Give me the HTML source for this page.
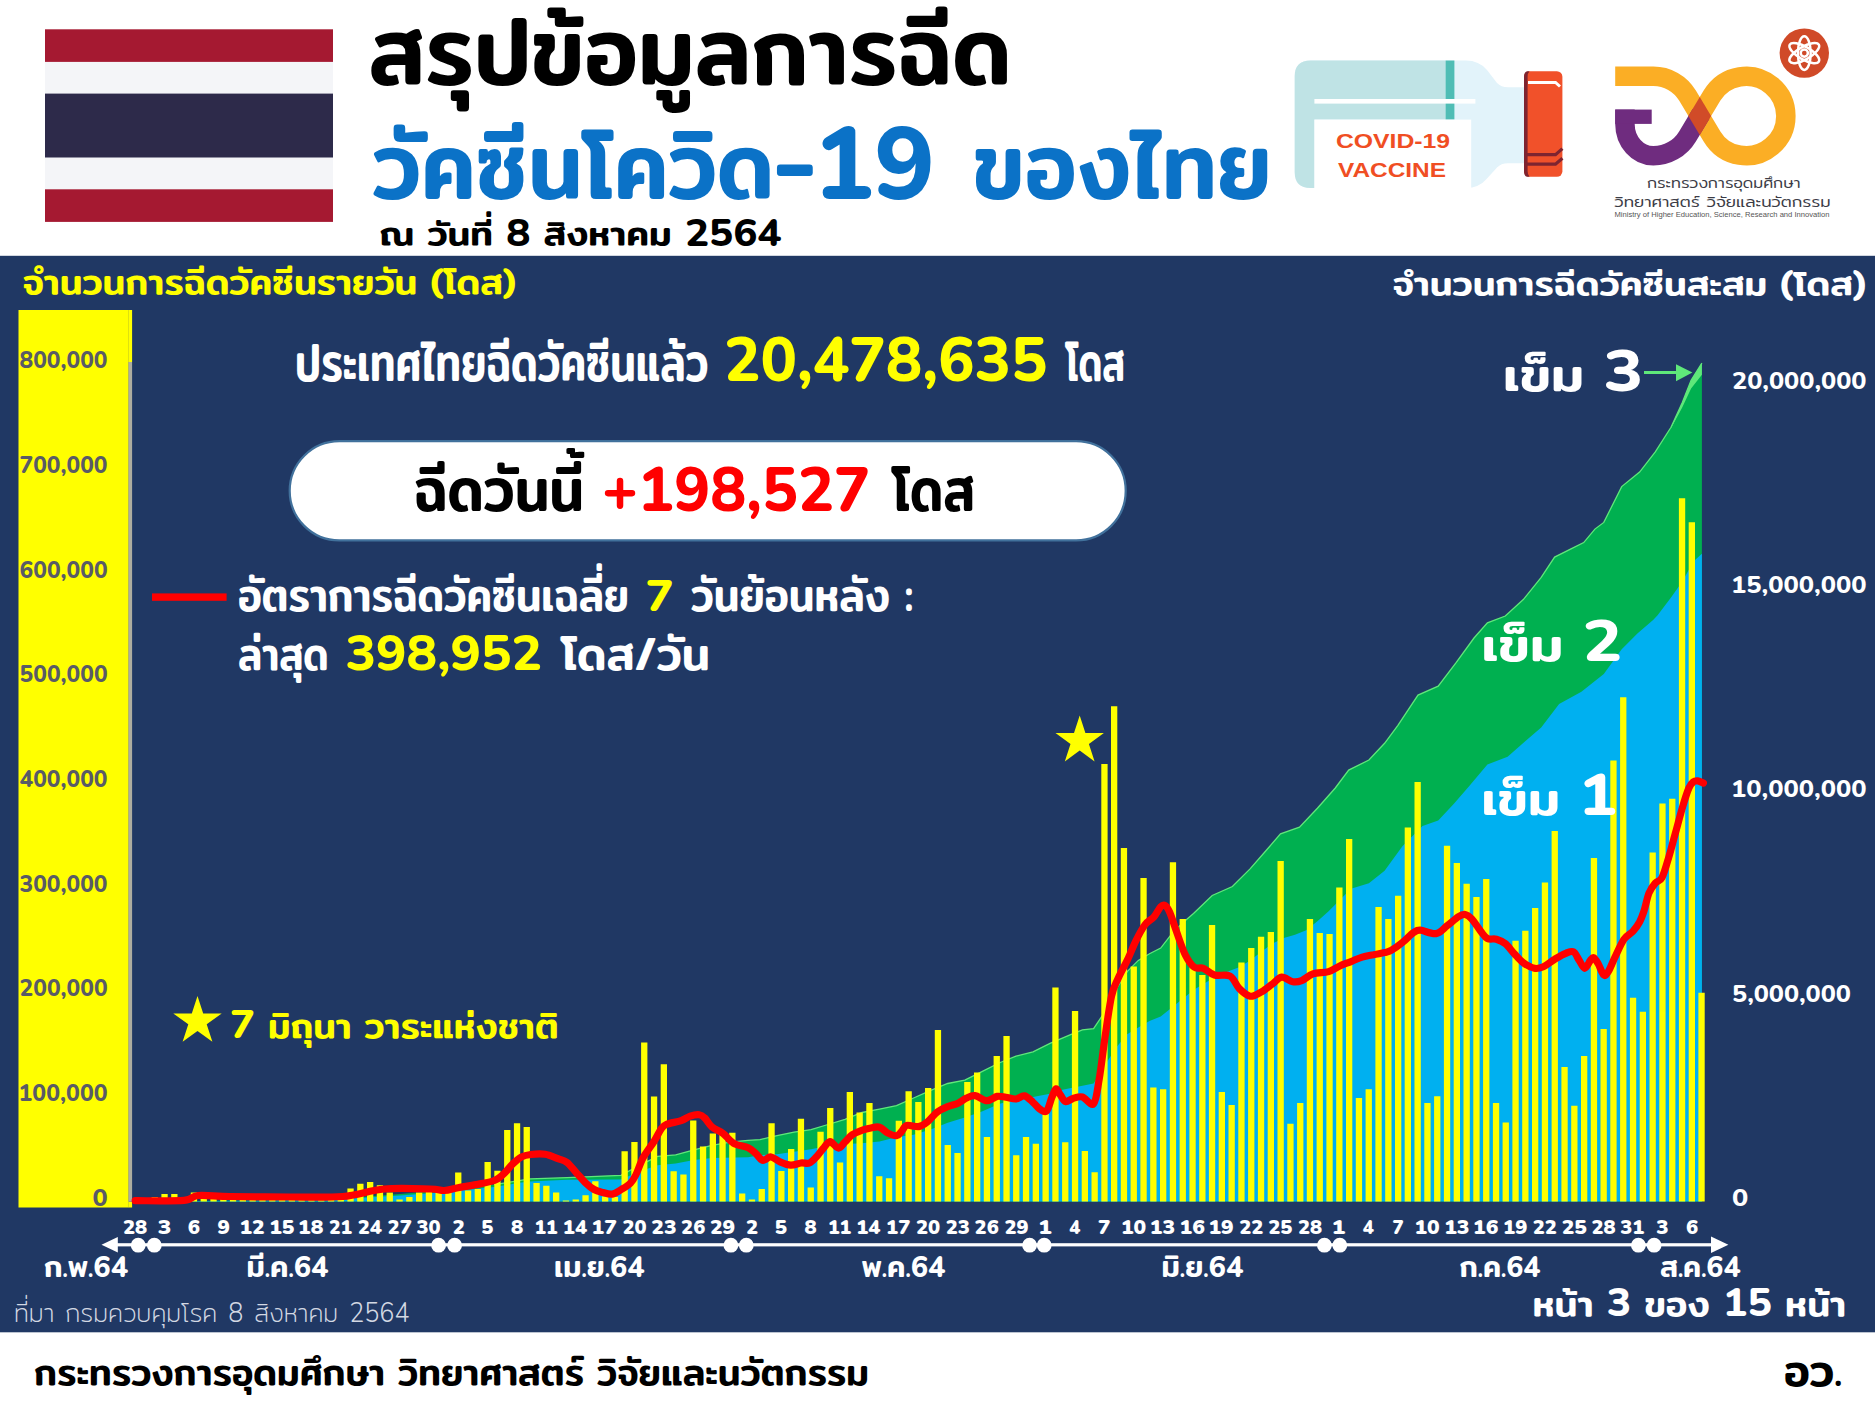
<!DOCTYPE html>
<html lang="th">
<head>
<meta charset="utf-8">
<title>สรุปข้อมูลการฉีดวัคซีนโควิด-19 ของไทย</title>
<style>
html,body{margin:0;padding:0;background:#ffffff;}
body{width:1875px;height:1407px;overflow:hidden;}
svg{display:block;}
text{white-space:pre;}
</style>
</head>
<body>
<svg width="1875" height="1407" viewBox="0 0 1875 1407">
<rect x="0" y="0" width="1875" height="1407" fill="#ffffff"/>
<g id="flag">
<rect x="45" y="29.3" width="288" height="192.6" fill="#a51931"/>
<rect x="45" y="61.9" width="288" height="127.4" fill="#f4f5f8"/>
<rect x="45" y="93.6" width="288" height="63.9" fill="#2d2a4a"/>
</g>
<g id="bottle">
<path d="M1310.7,60.5 H1466 Q1479,60.5 1487,70 L1497,83 Q1501,87.2 1508,87.2 H1526 V163.2 H1508 Q1501,163.2 1497,167.5 L1487,178.5 Q1479,188 1466,188 H1310.7 Q1294.7,188 1294.7,172 V76.5 Q1294.7,60.5 1310.7,60.5 Z" fill="#e2f3fa"/>
<path d="M1310.7,60.5 H1445.6 V119.6 H1314.4 V188 H1310.7 Q1294.7,188 1294.7,172 V76.5 Q1294.7,60.5 1310.7,60.5 Z" fill="#bfe3e5"/>
<rect x="1445.6" y="60.5" width="8.8" height="59.1" fill="#4fbdb5"/>
<rect x="1314.4" y="119.6" width="156.8" height="68.4" fill="#ffffff"/>
<rect x="1314.4" y="99" width="161" height="4.6" fill="#ffffff"/>
<rect x="1524" y="71.2" width="38.4" height="105.6" rx="5.5" fill="#f1512a"/>
<path d="M1529.5,71.2 H1527 Q1524,72 1524,77 V171 Q1524,176 1527,176.8 H1529.5 Q1527.6,175 1527.6,171 V77 Q1527.6,73 1529.5,71.2 Z" fill="#7e2430"/>
<path d="M1528,82.4 H1555.5 L1560,86.5" fill="none" stroke="#ffffff" stroke-width="3"/>
<path d="M1527,154.6 H1555.5 L1562.4,148.6" fill="none" stroke="#7e2430" stroke-width="3.2"/>
<path d="M1527,164.2 H1555.5 L1562.4,158.2" fill="none" stroke="#7e2430" stroke-width="3.2"/>
</g>
<g id="logo" fill="none" stroke-width="19.5" stroke-linecap="butt" stroke-linejoin="round">
<path d="M1615.2,76.25 H1653.4 A39.75,39.75 0 0 1 1687.49,95.56 L1712.01,136.44 A39.75,39.75 0 1 0 1712.01,95.56 L1699.75,116.00" stroke="#fbae25"/>
<path d="M1700.95,114.00 L1687.49,136.44 A39.75,39.75 0 0 1 1653.4,155.75 A28.45,31.75 0 0 1 1624.95,124.00 V109.6" stroke="#6f2c7f"/>
</g>
<rect x="1615.2" y="109.6" width="36.5" height="14.3" fill="#6f2c7f"/>
<path d="M1699.75,97.04 L1711.12,116.00 L1699.75,134.96 L1688.38,116.00 Z" fill="#d14b28"/>
<circle cx="1804.3" cy="53.1" r="24.7" fill="#d04a28"/>
<g fill="none" stroke="#ffffff" stroke-width="2.5">
<ellipse cx="1804.3" cy="53.1" rx="16.8" ry="6.4" transform="rotate(90 1804.3 53.1)"/>
<ellipse cx="1804.3" cy="53.1" rx="16.8" ry="6.4" transform="rotate(30 1804.3 53.1)"/>
<ellipse cx="1804.3" cy="53.1" rx="16.8" ry="6.4" transform="rotate(150 1804.3 53.1)"/>
<circle cx="1804.3" cy="53.1" r="3.6"/>
</g>
<rect x="0" y="255.8" width="1875" height="1076.5" fill="#203864"/>
<rect x="18.5" y="310" width="110.2" height="897.5" fill="#ffff00"/>
<rect x="128.5" y="310" width="3.6" height="52" fill="#ffff00"/>
<rect x="128.5" y="1201.6" width="3.6" height="5.9" fill="#ffff00"/>
<rect x="128.5" y="362" width="3.6" height="839.6" fill="#adada0"/>
<polygon fill="#00b050" points="135.2,1201.6 300.0,1200.1 340.0,1198.6 400.0,1194.1 440.0,1190.6 494.0,1184.6 530.0,1178.9 567.0,1177.6 621.0,1175.3 639.5,1165.3 657.6,1156.3 675.7,1154.8 694.0,1149.9 712.0,1145.4 730.0,1142.1 748.0,1140.3 760.0,1139.6 777.0,1135.6 794.0,1132.1 811.0,1129.6 828.0,1124.5 845.0,1119.3 862.0,1112.5 879.5,1109.1 896.5,1105.7 913.6,1098.0 930.7,1090.3 947.7,1083.5 964.8,1080.1 981.9,1071.6 999.0,1063.0 1016.0,1056.2 1033.0,1051.9 1050.0,1043.4 1060.0,1039.1 1071.2,1034.3 1082.4,1029.8 1093.6,1028.7 1104.8,1011.9 1116.0,989.5 1127.2,971.6 1138.3,960.4 1149.5,953.7 1160.7,948.1 1171.9,933.6 1183.1,922.4 1193.5,913.5 1212.2,895.5 1232.4,886.5 1250.3,868.6 1265.9,850.7 1280.5,833.9 1299.5,827.2 1317.4,808.2 1335.3,788.0 1348.7,770.1 1368.9,760.0 1384.6,743.3 1397.9,725.3 1418.0,695.1 1438.2,686.2 1456.1,662.7 1474.0,638.0 1487.4,622.8 1505.3,616.0 1523.3,599.6 1541.2,577.3 1554.6,557.1 1572.5,548.2 1583.7,542.6 1594.9,529.1 1603.8,522.4 1621.7,486.6 1639.6,472.1 1655.3,451.9 1671.0,427.3 1682.2,402.7 1691.1,380.3 1701.9,363.1 1701.9,1201.6 135.2,1201.6"/>
<polygon fill="#5fe87a" points="1671.0,427.3 1682.2,402.7 1691.1,380.3 1701.9,363.1 1701.9,374.7 1691.1,388.5 1682.2,407.5 1671.0,428.3"/>
<polyline fill="none" stroke="#5fe87a" stroke-width="1.3" points="494.0,1184.6 530.0,1178.9 567.0,1177.6 621.0,1175.3 639.5,1165.3 657.6,1156.3 675.7,1154.8 694.0,1149.9 712.0,1145.4 730.0,1142.1 748.0,1140.3 760.0,1139.6 777.0,1135.6 794.0,1132.1 811.0,1129.6 828.0,1124.5 845.0,1119.3 862.0,1112.5 879.5,1109.1 896.5,1105.7 913.6,1098.0 930.7,1090.3 947.7,1083.5 964.8,1080.1 981.9,1071.6 999.0,1063.0 1016.0,1056.2 1033.0,1051.9 1050.0,1043.4 1060.0,1039.1 1071.2,1034.3 1082.4,1029.8 1093.6,1028.7 1104.8,1011.9 1116.0,989.5 1127.2,971.6 1138.3,960.4 1149.5,953.7 1160.7,948.1 1171.9,933.6 1183.1,922.4 1193.5,913.5 1212.2,895.5 1232.4,886.5 1250.3,868.6 1265.9,850.7 1280.5,833.9 1299.5,827.2 1317.4,808.2 1335.3,788.0 1348.7,770.1 1368.9,760.0 1384.6,743.3 1397.9,725.3 1418.0,695.1 1438.2,686.2 1456.1,662.7 1474.0,638.0 1487.4,622.8 1505.3,616.0 1523.3,599.6 1541.2,577.3 1554.6,557.1 1572.5,548.2 1583.7,542.6 1594.9,529.1 1603.8,522.4 1621.7,486.6 1639.6,472.1 1655.3,451.9 1671.0,427.3 1682.2,402.7 1691.1,380.3 1701.9,363.1"/>
<polygon fill="#00b0f0" points="135.2,1201.6 200.0,1201.1 300.0,1200.1 340.0,1199.1 360.0,1198.1 400.0,1195.6 440.0,1192.6 494.0,1187.1 521.6,1182.6 530.0,1181.6 567.0,1179.8 621.0,1179.5 639.5,1171.6 657.6,1165.3 675.7,1163.6 694.0,1159.9 712.0,1158.1 748.0,1157.2 760.0,1155.2 777.0,1154.3 794.0,1151.8 811.0,1149.2 828.0,1145.8 845.0,1144.1 862.0,1143.2 879.5,1141.6 896.5,1137.3 913.6,1134.7 930.7,1129.6 947.7,1122.7 964.8,1117.6 981.9,1111.6 999.0,1104.0 1016.0,1098.9 1033.0,1097.1 1050.0,1093.7 1060.0,1090.2 1082.4,1085.8 1093.6,1083.5 1104.8,1065.6 1116.0,1047.7 1127.2,1034.3 1138.3,1027.6 1149.5,1020.9 1160.7,1016.4 1171.9,1007.4 1183.1,998.5 1194.3,989.5 1205.5,982.8 1216.7,976.1 1227.9,971.6 1239.1,967.2 1250.3,960.4 1261.5,951.5 1272.6,943.6 1283.8,938.1 1295.0,934.7 1306.2,930.2 1317.4,921.3 1328.6,911.2 1339.8,900.0 1351.0,888.7 1368.9,883.2 1384.6,870.8 1402.4,846.2 1422.5,826.1 1438.2,820.5 1453.9,803.7 1469.5,785.8 1487.4,764.5 1507.6,756.7 1525.5,741.0 1541.2,727.6 1559.1,704.1 1581.4,691.8 1603.8,673.9 1621.7,649.2 1637.4,633.6 1653.1,620.1 1657.6,615.3 1671.0,597.4 1682.2,581.7 1693.4,561.6 1701.9,553.8 1701.9,1201.6 135.2,1201.6"/>
<path fill="#ffff00" d="M132.0,1201.6v-0.5h6.3v0.5zM141.8,1201.6v-1.5h6.3v1.5zM151.6,1201.6v-4.5h6.3v4.5zM161.4,1201.6v-7.6h6.3v7.6zM171.2,1201.6v-7.6h6.3v7.6zM181.0,1201.6v-4.5h6.3v4.5zM190.8,1201.6v-9.0h6.3v9.0zM200.6,1201.6v-4.0h6.3v4.0zM210.4,1201.6v-4.0h6.3v4.0zM220.2,1201.6v-3.5h6.3v3.5zM229.9,1201.6v-4.0h6.3v4.0zM239.7,1201.6v-4.0h6.3v4.0zM249.5,1201.6v-3.5h6.3v3.5zM259.3,1201.6v-3.5h6.3v3.5zM269.1,1201.6v-3.5h6.3v3.5zM278.9,1201.6v-4.0h6.3v4.0zM288.7,1201.6v-4.0h6.3v4.0zM298.5,1201.6v-4.0h6.3v4.0zM308.3,1201.6v-4.0h6.3v4.0zM318.1,1201.6v-4.0h6.3v4.0zM327.9,1201.6v-4.0h6.3v4.0zM337.6,1201.6v-4.5h6.3v4.5zM347.4,1201.6v-13.0h6.3v13.0zM357.2,1201.6v-17.8h6.3v17.8zM367.0,1201.6v-19.6h6.3v19.6zM376.8,1201.6v-16.3h6.3v16.3zM386.6,1201.6v-9.0h6.3v9.0zM396.4,1201.6v-2.0h6.3v2.0zM406.2,1201.6v-4.5h6.3v4.5zM416.0,1201.6v-9.0h6.3v9.0zM425.8,1201.6v-10.0h6.3v10.0zM435.5,1201.6v-9.0h6.3v9.0zM445.3,1201.6v-14.0h6.3v14.0zM455.1,1201.6v-29.0h6.3v29.0zM464.9,1201.6v-11.0h6.3v11.0zM474.7,1201.6v-12.7h6.3v12.7zM484.5,1201.6v-39.5h6.3v39.5zM494.3,1201.6v-30.8h6.3v30.8zM504.1,1201.6v-71.6h6.3v71.6zM513.9,1201.6v-78.3h6.3v78.3zM523.6,1201.6v-74.7h6.3v74.7zM533.4,1201.6v-18.7h6.3v18.7zM543.2,1201.6v-15.8h6.3v15.8zM553.0,1201.6v-9.0h6.3v9.0zM562.8,1201.6v-1.0h6.3v1.0zM572.6,1201.6v-2.2h6.3v2.2zM582.4,1201.6v-6.3h6.3v6.3zM592.2,1201.6v-20.3h6.3v20.3zM602.0,1201.6v-5.0h6.3v5.0zM611.8,1201.6v-4.5h6.3v4.5zM621.5,1201.6v-50.4h6.3v50.4zM631.3,1201.6v-59.5h6.3v59.5zM641.1,1201.6v-159.2h6.3v159.2zM650.9,1201.6v-105.2h6.3v105.2zM660.7,1201.6v-137.3h6.3v137.3zM670.5,1201.6v-30.3h6.3v30.3zM680.3,1201.6v-27.2h6.3v27.2zM690.1,1201.6v-81.2h6.3v81.2zM699.9,1201.6v-55.0h6.3v55.0zM709.7,1201.6v-68.0h6.3v68.0zM719.4,1201.6v-69.3h6.3v69.3zM729.2,1201.6v-68.9h6.3v68.9zM739.0,1201.6v-8.2h6.3v8.2zM748.8,1201.6v-2.2h6.3v2.2zM758.6,1201.6v-12.5h6.3v12.5zM768.4,1201.6v-78.4h6.3v78.4zM778.2,1201.6v-30.6h6.3v30.6zM788.0,1201.6v-52.7h6.3v52.7zM797.8,1201.6v-82.8h6.3v82.8zM807.6,1201.6v-14.0h6.3v14.0zM817.4,1201.6v-69.8h6.3v69.8zM827.1,1201.6v-93.7h6.3v93.7zM836.9,1201.6v-39.1h6.3v39.1zM846.7,1201.6v-109.6h6.3v109.6zM856.5,1201.6v-89.1h6.3v89.1zM866.3,1201.6v-98.7h6.3v98.7zM876.1,1201.6v-25.4h6.3v25.4zM885.9,1201.6v-23.4h6.3v23.4zM895.7,1201.6v-80.9h6.3v80.9zM905.5,1201.6v-110.4h6.3v110.4zM915.2,1201.6v-99.7h6.3v99.7zM925.0,1201.6v-113.7h6.3v113.7zM934.8,1201.6v-171.5h6.3v171.5zM944.6,1201.6v-56.7h6.3v56.7zM954.4,1201.6v-48.5h6.3v48.5zM964.2,1201.6v-119.6h6.3v119.6zM974.0,1201.6v-129.2h6.3v129.2zM983.8,1201.6v-64.7h6.3v64.7zM993.6,1201.6v-145.6h6.3v145.6zM1003.4,1201.6v-165.6h6.3v165.6zM1013.1,1201.6v-46.4h6.3v46.4zM1022.9,1201.6v-64.7h6.3v64.7zM1032.7,1201.6v-57.9h6.3v57.9zM1042.5,1201.6v-90.0h6.3v90.0zM1052.3,1201.6v-214.0h6.3v214.0zM1062.1,1201.6v-59.3h6.3v59.3zM1071.9,1201.6v-190.5h6.3v190.5zM1081.7,1201.6v-50.6h6.3v50.6zM1091.5,1201.6v-29.3h6.3v29.3zM1101.3,1201.6v-437.6h6.3v437.6zM1111.0,1201.6v-495.4h6.3v495.4zM1120.8,1201.6v-353.7h6.3v353.7zM1130.6,1201.6v-235.0h6.3v235.0zM1140.4,1201.6v-323.7h6.3v323.7zM1150.2,1201.6v-114.2h6.3v114.2zM1160.0,1201.6v-112.4h6.3v112.4zM1169.8,1201.6v-339.4h6.3v339.4zM1179.6,1201.6v-282.7h6.3v282.7zM1189.4,1201.6v-234.6h6.3v234.6zM1199.2,1201.6v-226.7h6.3v226.7zM1208.9,1201.6v-276.7h6.3v276.7zM1218.7,1201.6v-109.7h6.3v109.7zM1228.5,1201.6v-96.7h6.3v96.7zM1238.3,1201.6v-239.0h6.3v239.0zM1248.1,1201.6v-253.6h6.3v253.6zM1257.9,1201.6v-264.8h6.3v264.8zM1267.7,1201.6v-269.7h6.3v269.7zM1277.5,1201.6v-340.5h6.3v340.5zM1287.3,1201.6v-77.9h6.3v77.9zM1297.1,1201.6v-98.5h6.3v98.5zM1306.8,1201.6v-282.7h6.3v282.7zM1316.6,1201.6v-268.6h6.3v268.6zM1326.4,1201.6v-267.7h6.3v267.7zM1336.2,1201.6v-314.1h6.3v314.1zM1346.0,1201.6v-362.7h6.3v362.7zM1355.8,1201.6v-103.6h6.3v103.6zM1365.6,1201.6v-112.4h6.3v112.4zM1375.4,1201.6v-294.6h6.3v294.6zM1385.2,1201.6v-282.7h6.3v282.7zM1395.0,1201.6v-305.8h6.3v305.8zM1404.7,1201.6v-374.1h6.3v374.1zM1414.5,1201.6v-419.7h6.3v419.7zM1424.3,1201.6v-98.5h6.3v98.5zM1434.1,1201.6v-105.4h6.3v105.4zM1443.9,1201.6v-355.9h6.3v355.9zM1453.7,1201.6v-338.7h6.3v338.7zM1463.5,1201.6v-317.9h6.3v317.9zM1473.3,1201.6v-304.7h6.3v304.7zM1483.1,1201.6v-322.6h6.3v322.6zM1492.9,1201.6v-98.5h6.3v98.5zM1502.6,1201.6v-79.0h6.3v79.0zM1512.4,1201.6v-260.8h6.3v260.8zM1522.2,1201.6v-270.8h6.3v270.8zM1532.0,1201.6v-293.5h6.3v293.5zM1541.8,1201.6v-319.2h6.3v319.2zM1551.6,1201.6v-370.5h6.3v370.5zM1561.4,1201.6v-134.5h6.3v134.5zM1571.2,1201.6v-95.8h6.3v95.8zM1581.0,1201.6v-145.7h6.3v145.7zM1590.8,1201.6v-343.6h6.3v343.6zM1600.5,1201.6v-172.6h6.3v172.6zM1610.3,1201.6v-441.0h6.3v441.0zM1620.1,1201.6v-504.3h6.3v504.3zM1629.9,1201.6v-203.9h6.3v203.9zM1639.7,1201.6v-189.8h6.3v189.8zM1649.5,1201.6v-349.2h6.3v349.2zM1659.3,1201.6v-398.0h6.3v398.0zM1669.1,1201.6v-402.9h6.3v402.9zM1678.9,1201.6v-703.4h6.3v703.4zM1688.7,1201.6v-679.3h6.3v679.3zM1698.4,1201.6v-208.8h6.3v208.8z"/>
<path fill="none" stroke="#ff0000" stroke-width="7.2" stroke-linejoin="round" stroke-linecap="round" d="M135.2,1200.7C143.3,1200.6 173.5,1201.2 184.0,1200.3C194.5,1199.4 190.3,1196.1 198.0,1195.5C205.7,1194.9 214.7,1196.2 230.0,1196.5C245.3,1196.8 271.2,1197.0 290.0,1197.0C308.8,1197.0 326.9,1197.8 342.6,1196.5C358.3,1195.2 369.4,1190.2 384.0,1189.0C398.6,1187.8 420.0,1188.8 430.0,1189.0C440.0,1189.2 439.3,1190.7 444.0,1190.5C448.7,1190.3 452.6,1188.7 458.0,1187.7C463.4,1186.7 470.2,1185.8 476.3,1184.6C482.4,1183.4 489.9,1182.2 494.4,1180.5C498.9,1178.8 500.5,1176.8 503.5,1174.1C506.5,1171.4 509.5,1167.1 512.5,1164.2C515.5,1161.3 518.6,1158.5 521.6,1156.9C524.6,1155.3 526.8,1155.0 530.7,1154.5C534.6,1154.0 540.7,1153.5 545.2,1154.2C549.7,1154.9 554.3,1157.4 557.9,1158.7C561.5,1160.0 563.9,1160.0 566.9,1162.3C569.9,1164.6 573.0,1169.0 576.0,1172.3C579.0,1175.6 582.0,1179.4 585.0,1182.3C588.0,1185.2 591.1,1187.8 594.1,1189.5C597.1,1191.2 600.2,1191.8 603.2,1192.6C606.2,1193.4 609.3,1194.6 612.3,1194.1C615.3,1193.6 618.3,1191.3 621.3,1189.5C624.3,1187.7 628.0,1185.6 630.4,1183.2C632.8,1180.8 633.7,1179.2 635.8,1175.0C637.9,1170.8 640.1,1163.4 643.1,1157.8C646.1,1152.2 651.0,1146.3 654.0,1141.5C657.0,1136.7 659.1,1131.7 661.2,1128.8C663.3,1125.9 663.4,1125.7 666.7,1124.3C670.0,1122.9 677.3,1122.0 681.2,1120.6C685.1,1119.2 687.2,1117.1 690.2,1116.1C693.2,1115.1 696.9,1114.4 699.3,1114.7C701.7,1115.0 702.6,1115.9 704.7,1117.9C706.8,1120.0 709.0,1124.4 712.0,1127.0C715.0,1129.6 719.3,1130.6 722.9,1133.3C726.5,1136.0 729.5,1140.9 733.7,1143.3C737.9,1145.7 744.6,1146.1 748.2,1147.8C751.8,1149.5 753.2,1151.3 755.5,1153.3C757.8,1155.3 760.2,1159.0 761.8,1160.0C763.4,1161.0 763.5,1160.1 765.1,1159.6C766.7,1159.1 768.5,1156.6 771.1,1157.0C773.7,1157.4 777.2,1160.7 780.5,1162.1C783.8,1163.5 787.3,1165.0 790.7,1165.2C794.1,1165.4 797.9,1163.4 801.0,1163.0C804.1,1162.6 807.0,1164.0 809.5,1163.0C812.0,1162.0 814.0,1159.4 816.3,1157.0C818.6,1154.6 820.9,1151.0 823.2,1148.5C825.5,1146.0 827.5,1141.8 830.0,1141.7C832.5,1141.6 836.0,1148.1 838.5,1148.1C841.0,1148.1 843.0,1143.9 845.3,1141.7C847.6,1139.5 849.4,1136.7 852.2,1134.8C855.1,1132.9 859.3,1131.2 862.4,1130.1C865.5,1129.0 868.0,1128.5 870.9,1128.0C873.8,1127.5 876.6,1126.4 879.5,1127.2C882.4,1128.0 885.2,1131.7 888.0,1133.1C890.8,1134.5 894.2,1136.0 896.5,1135.7C898.8,1135.4 900.0,1133.1 901.7,1131.4C903.4,1129.7 904.0,1126.2 906.8,1125.4C909.6,1124.6 915.3,1127.2 918.7,1126.6C922.1,1126.0 924.2,1124.5 927.3,1122.0C930.4,1119.5 934.1,1114.3 937.5,1111.8C940.9,1109.2 944.3,1108.1 947.7,1106.7C951.1,1105.3 954.9,1104.7 958.0,1103.3C961.1,1101.9 963.7,1099.4 966.5,1098.1C969.3,1096.8 971.6,1095.2 975.0,1095.6C978.4,1096.0 983.3,1100.6 987.0,1100.7C990.7,1100.8 994.1,1097.0 997.2,1096.4C1000.3,1095.8 1002.7,1096.9 1005.8,1097.3C1008.9,1097.7 1012.9,1099.2 1016.0,1099.0C1019.1,1098.8 1021.6,1095.3 1024.5,1095.9C1027.3,1096.5 1030.5,1100.2 1033.1,1102.4C1035.7,1104.6 1037.6,1107.8 1039.9,1109.2C1042.2,1110.6 1044.7,1112.9 1046.7,1110.9C1048.7,1108.9 1050.3,1101.0 1051.9,1097.3C1053.5,1093.6 1054.7,1089.2 1056.1,1088.8C1057.5,1088.4 1058.8,1092.9 1060.4,1095.0C1062.0,1097.1 1063.5,1101.0 1065.6,1101.6C1067.7,1102.2 1070.2,1099.3 1073.0,1098.5C1075.8,1097.7 1079.0,1096.1 1082.4,1097.0C1085.8,1097.9 1090.8,1106.7 1093.6,1103.7C1096.4,1100.7 1097.3,1089.9 1099.2,1079.1C1101.1,1068.3 1102.8,1052.6 1104.8,1038.8C1106.8,1025.0 1109.3,1006.3 1111.5,996.2C1113.7,986.1 1115.6,984.3 1118.2,978.3C1120.8,972.3 1124.2,966.7 1127.2,960.4C1130.2,954.1 1133.1,946.3 1136.1,940.3C1139.1,934.3 1142.1,928.5 1145.1,924.6C1148.1,920.7 1151.4,919.8 1154.0,916.8C1156.6,913.8 1158.8,908.6 1160.7,906.7C1162.6,904.8 1163.7,904.7 1165.2,905.6C1166.7,906.5 1167.8,908.0 1169.7,912.3C1171.6,916.6 1173.8,924.2 1176.4,931.3C1179.0,938.4 1182.3,948.8 1185.3,954.8C1188.3,960.8 1191.3,965.0 1194.3,967.2C1197.3,969.5 1199.9,967.0 1203.3,968.3C1206.7,969.6 1209.9,973.7 1214.4,975.0C1218.9,976.3 1226.0,973.9 1230.1,976.1C1234.2,978.3 1235.7,985.0 1239.1,988.4C1242.5,991.8 1246.6,995.6 1250.3,996.2C1254.0,996.8 1257.8,993.8 1261.5,991.8C1265.2,989.8 1269.2,986.3 1272.6,983.9C1275.9,981.5 1278.2,977.6 1281.6,977.2C1285.0,976.8 1289.4,981.1 1292.8,981.7C1296.2,982.3 1298.3,981.9 1301.7,980.6C1305.1,979.3 1308.4,975.4 1312.9,973.9C1317.4,972.4 1324.1,972.9 1328.6,971.6C1333.1,970.3 1336.1,967.7 1339.8,966.0C1343.5,964.3 1347.3,963.1 1351.0,961.6C1354.7,960.1 1358.5,958.2 1362.2,957.1C1365.9,956.0 1369.7,955.5 1373.4,954.8C1377.1,954.0 1381.6,953.3 1384.6,952.6C1387.6,951.9 1388.2,952.1 1391.2,950.4C1394.2,948.7 1398.7,945.5 1402.4,942.5C1406.1,939.5 1410.6,934.5 1413.6,932.5C1416.6,930.5 1416.6,930.0 1420.3,930.2C1424.0,930.4 1431.5,934.4 1436.0,933.6C1440.5,932.9 1443.5,928.5 1447.2,925.7C1450.9,922.9 1455.3,918.7 1458.3,916.8C1461.3,914.9 1462.8,914.1 1465.1,914.5C1467.3,914.9 1469.2,916.2 1471.8,919.0C1474.4,921.8 1478.1,928.0 1480.7,931.3C1483.3,934.5 1484.8,937.2 1487.4,938.5C1490.0,939.8 1493.4,938.4 1496.4,939.2C1499.4,940.1 1502.3,941.2 1505.3,943.6C1508.3,946.0 1511.3,950.5 1514.3,953.7C1517.3,956.9 1519.9,960.3 1523.3,962.7C1526.7,965.1 1531.1,967.6 1534.4,968.3C1537.8,969.0 1540.0,968.2 1543.4,966.7C1546.8,965.2 1550.9,961.5 1554.6,959.3C1558.3,957.1 1562.6,954.5 1565.8,953.3C1569.0,952.1 1571.4,950.7 1573.6,951.9C1575.8,953.1 1577.3,957.7 1579.2,960.4C1581.1,963.1 1582.9,968.3 1584.8,968.3C1586.7,968.3 1588.9,962.2 1590.4,960.4C1591.9,958.6 1592.5,957.1 1593.8,957.7C1595.1,958.3 1596.5,960.9 1598.2,963.8C1599.9,966.7 1602.1,973.7 1603.8,975.0C1605.5,976.3 1606.4,974.6 1608.3,971.6C1610.2,968.6 1612.4,962.5 1615.0,957.1C1617.6,951.7 1621.0,943.5 1624.0,939.2C1627.0,934.9 1630.3,934.2 1632.9,931.3C1635.5,928.4 1637.8,925.4 1639.6,922.0C1641.4,918.6 1642.4,915.8 1644.0,911.0C1645.6,906.2 1647.1,897.6 1649.0,893.0C1650.9,888.4 1653.1,885.7 1655.3,883.1C1657.5,880.5 1659.8,881.9 1662.0,877.6C1664.2,873.3 1666.5,864.9 1668.7,857.4C1671.0,849.9 1673.2,841.0 1675.5,832.8C1677.8,824.6 1680.0,815.7 1682.2,808.2C1684.4,800.7 1687.0,792.4 1688.9,788.0C1690.8,783.6 1691.9,783.0 1693.4,781.8C1694.9,780.6 1696.1,780.7 1697.8,780.9C1699.5,781.1 1702.5,782.7 1703.4,783.1"/>
<rect x="152" y="593.4" width="74.6" height="7.4" fill="#ff0000"/>
<rect x="289.7" y="441.2" width="836" height="99.2" rx="49.6" fill="#ffffff" stroke="#41719c" stroke-width="2.2"/>
<polygon fill="#ffff00" points="1079.7,715.5 1085.4,733.1 1103.9,733.1 1088.9,743.9 1094.6,761.4 1079.7,750.6 1064.8,761.4 1070.5,743.9 1055.5,733.1 1074.0,733.1"/>
<polygon fill="#ffff00" points="197.5,995.9 203.2,1013.5 221.7,1013.5 206.7,1024.3 212.4,1041.8 197.5,1031.0 182.6,1041.8 188.3,1024.3 173.3,1013.5 191.8,1013.5"/>
<rect x="1644" y="371" width="34" height="3" fill="#5fe87a"/>
<polygon fill="#5fe87a" points="1676,364.2 1692.4,372.6 1676,381.2"/>
<g fill="#ffffff">
<rect x="112" y="1243.2" width="1604" height="3.2"/>
<polygon points="101.5,1244.8 117.8,1237 117.8,1252.6"/>
<polygon points="1728.4,1244.8 1711,1236.6 1711,1253"/>
<circle cx="138.2" cy="1245.2" r="7.4"/>
<circle cx="154.3" cy="1245.2" r="7.4"/>
<circle cx="438.6" cy="1245.2" r="7.4"/>
<circle cx="454.6" cy="1245.2" r="7.4"/>
<circle cx="730.9" cy="1245.2" r="7.4"/>
<circle cx="746.3" cy="1245.2" r="7.4"/>
<circle cx="1029.6" cy="1245.2" r="7.4"/>
<circle cx="1044.2" cy="1245.2" r="7.4"/>
<circle cx="1324.4" cy="1245.2" r="7.4"/>
<circle cx="1339.8" cy="1245.2" r="7.4"/>
<circle cx="1638.4" cy="1245.2" r="7.4"/>
<circle cx="1654.1" cy="1245.2" r="7.4"/>
</g>
<text x="368.5" y="85.0" font-family="Mitr, Prompt, Kanit, 'Noto Sans Thai', Loma, 'Liberation Sans', sans-serif" font-weight="500" font-size="96" fill="#000" textLength="643.1" lengthAdjust="spacingAndGlyphs">สรุปข้อมูลการฉีด</text>
<text x="372.5" y="198.7" font-family="Mitr, Prompt, Kanit, 'Noto Sans Thai', Loma, 'Liberation Sans', sans-serif" font-weight="500" font-size="94" fill="#0b72c7" textLength="443.0" lengthAdjust="spacingAndGlyphs">วัคซีนโควิด-</text>
<text x="813.5" y="198.7" font-family="Nunito, 'Varela Round', Prompt, 'Liberation Sans', sans-serif" font-weight="800" font-size="101.4" fill="#0b72c7" textLength="121.5" lengthAdjust="spacingAndGlyphs">19</text>
<text x="973.0" y="198.7" font-family="Mitr, Prompt, Kanit, 'Noto Sans Thai', Loma, 'Liberation Sans', sans-serif" font-weight="500" font-size="94" fill="#0b72c7" textLength="298.7" lengthAdjust="spacingAndGlyphs">ของไทย</text>
<text x="379.5" y="246.3" font-family="Mitr, Prompt, Kanit, 'Noto Sans Thai', Loma, 'Liberation Sans', sans-serif" font-weight="500" font-size="34" fill="#000" textLength="402.0" lengthAdjust="spacingAndGlyphs">ณ วันที่ <tspan font-family="Nunito, 'Varela Round', Prompt, 'Liberation Sans', sans-serif" font-weight="800" font-size="37.5">8</tspan> สิงหาคม <tspan font-family="Nunito, 'Varela Round', Prompt, 'Liberation Sans', sans-serif" font-weight="800" font-size="37.5">2564</tspan></text>
<text x="22.5" y="294.2" font-family="Mitr, Prompt, Kanit, 'Noto Sans Thai', Loma, 'Liberation Sans', sans-serif" font-weight="500" font-size="34.5" fill="#ffff00" textLength="493.5" lengthAdjust="spacingAndGlyphs">จำนวนการฉีดวัคซีนรายวัน (โดส)</text>
<text x="1392.5" y="295.6" font-family="Mitr, Prompt, Kanit, 'Noto Sans Thai', Loma, 'Liberation Sans', sans-serif" font-weight="500" font-size="33.5" fill="#fff" textLength="473.5" lengthAdjust="spacingAndGlyphs">จำนวนการฉีดวัคซีนสะสม (โดส)</text>
<text x="295.0" y="381.0" font-family="Mitr, Prompt, Kanit, 'Noto Sans Thai', Loma, 'Liberation Sans', sans-serif" font-weight="500" font-size="53.7" fill="#fff" textLength="413.5" lengthAdjust="spacingAndGlyphs">ประเทศไทยฉีดวัคซีนแล้ว</text>
<text x="724.0" y="381.0" font-family="Nunito, 'Varela Round', Prompt, 'Liberation Sans', sans-serif" font-weight="800" font-size="61.8" fill="#ffff00" textLength="323.6" lengthAdjust="spacingAndGlyphs">20,478,635</text>
<text x="1065.5" y="381.0" font-family="Mitr, Prompt, Kanit, 'Noto Sans Thai', Loma, 'Liberation Sans', sans-serif" font-weight="500" font-size="53.7" fill="#fff" textLength="59.5" lengthAdjust="spacingAndGlyphs">โดส</text>
<text x="414.0" y="511.0" font-family="Mitr, Prompt, Kanit, 'Noto Sans Thai', Loma, 'Liberation Sans', sans-serif" font-weight="500" font-size="60.4" fill="#000" textLength="170.0" lengthAdjust="spacingAndGlyphs">ฉีดวันนี้</text>
<text x="602.0" y="511.0" font-family="Nunito, 'Varela Round', Prompt, 'Liberation Sans', sans-serif" font-weight="800" font-size="60.8" fill="#ff0000" textLength="268.1" lengthAdjust="spacingAndGlyphs">+198,527</text>
<text x="892.0" y="511.0" font-family="Mitr, Prompt, Kanit, 'Noto Sans Thai', Loma, 'Liberation Sans', sans-serif" font-weight="500" font-size="60.4" fill="#000" textLength="83.0" lengthAdjust="spacingAndGlyphs">โดส</text>
<text x="238.0" y="611.2" font-family="Mitr, Prompt, Kanit, 'Noto Sans Thai', Loma, 'Liberation Sans', sans-serif" font-weight="500" font-size="46.3" fill="#fff" textLength="391.0" lengthAdjust="spacingAndGlyphs">อัตราการฉีดวัคซีนเฉลี่ย</text>
<text x="645.5" y="611.2" font-family="Nunito, 'Varela Round', Prompt, 'Liberation Sans', sans-serif" font-weight="800" font-size="43.1" fill="#ffff00" textLength="28.1" lengthAdjust="spacingAndGlyphs">7</text>
<text x="691.0" y="611.2" font-family="Mitr, Prompt, Kanit, 'Noto Sans Thai', Loma, 'Liberation Sans', sans-serif" font-weight="500" font-size="46.3" fill="#fff" textLength="222.0" lengthAdjust="spacingAndGlyphs">วันย้อนหลัง :</text>
<text x="238.0" y="670.0" font-family="Mitr, Prompt, Kanit, 'Noto Sans Thai', Loma, 'Liberation Sans', sans-serif" font-weight="500" font-size="46.3" fill="#fff" textLength="90.6" lengthAdjust="spacingAndGlyphs">ล่าสุด</text>
<text x="345.5" y="670.0" font-family="Nunito, 'Varela Round', Prompt, 'Liberation Sans', sans-serif" font-weight="800" font-size="49.3" fill="#ffff00" textLength="196.6" lengthAdjust="spacingAndGlyphs">398,952</text>
<text x="561.0" y="670.0" font-family="Mitr, Prompt, Kanit, 'Noto Sans Thai', Loma, 'Liberation Sans', sans-serif" font-weight="500" font-size="46.3" fill="#fff" textLength="149.0" lengthAdjust="spacingAndGlyphs">โดส/วัน</text>
<text x="1503.0" y="390.6" font-family="Mitr, Prompt, Kanit, 'Noto Sans Thai', Loma, 'Liberation Sans', sans-serif" font-weight="500" font-size="46.3" fill="#fff" textLength="140.2" lengthAdjust="spacingAndGlyphs">เข็ม <tspan font-family="Nunito, 'Varela Round', Prompt, 'Liberation Sans', sans-serif" font-weight="800" font-size="57.6">3</tspan></text>
<text x="1481.5" y="660.9" font-family="Mitr, Prompt, Kanit, 'Noto Sans Thai', Loma, 'Liberation Sans', sans-serif" font-weight="500" font-size="46.3" fill="#fff" textLength="140.7" lengthAdjust="spacingAndGlyphs">เข็ม <tspan font-family="Nunito, 'Varela Round', Prompt, 'Liberation Sans', sans-serif" font-weight="800" font-size="56.9">2</tspan></text>
<text x="1481.5" y="815.2" font-family="Mitr, Prompt, Kanit, 'Noto Sans Thai', Loma, 'Liberation Sans', sans-serif" font-weight="500" font-size="46.3" fill="#fff" textLength="135.7" lengthAdjust="spacingAndGlyphs">เข็ม <tspan font-family="Nunito, 'Varela Round', Prompt, 'Liberation Sans', sans-serif" font-weight="800" font-size="57.6">1</tspan></text>
<text x="230.0" y="1038.2" font-family="Mitr, Prompt, Kanit, 'Noto Sans Thai', Loma, 'Liberation Sans', sans-serif" font-weight="500" font-size="35.2" fill="#ffff00" textLength="328.5" lengthAdjust="spacingAndGlyphs"><tspan font-family="Nunito, 'Varela Round', Prompt, 'Liberation Sans', sans-serif" font-weight="800" font-size="40.4">7</tspan> มิถุนา วาระแห่งชาติ</text>
<text x="14.0" y="1321.9" font-family="Mitr, Prompt, Kanit, 'Noto Sans Thai', Loma, 'Liberation Sans', sans-serif" font-weight="200" font-size="26.5" fill="#d3d8e3" textLength="395.5" lengthAdjust="spacingAndGlyphs">ที่มา กรมควบคุมโรค <tspan font-family="Nunito, 'Varela Round', Prompt, 'Liberation Sans', sans-serif" font-weight="300" font-size="27.1">8</tspan> สิงหาคม <tspan font-family="Nunito, 'Varela Round', Prompt, 'Liberation Sans', sans-serif" font-weight="300" font-size="27.1">2564</tspan></text>
<text x="1532.5" y="1316.1" font-family="Mitr, Prompt, Kanit, 'Noto Sans Thai', Loma, 'Liberation Sans', sans-serif" font-weight="500" font-size="35.5" fill="#fff" textLength="313.6" lengthAdjust="spacingAndGlyphs">หน้า <tspan font-family="Nunito, 'Varela Round', Prompt, 'Liberation Sans', sans-serif" font-weight="800" font-size="39.4">3</tspan> ของ <tspan font-family="Nunito, 'Varela Round', Prompt, 'Liberation Sans', sans-serif" font-weight="800" font-size="39.4">15</tspan> หน้า</text>
<text x="34.0" y="1385.0" font-family="Mitr, Prompt, Kanit, 'Noto Sans Thai', Loma, 'Liberation Sans', sans-serif" font-weight="500" font-size="36.7" fill="#000" textLength="835.0" lengthAdjust="spacingAndGlyphs">กระทรวงการอุดมศึกษา วิทยาศาสตร์ วิจัยและนวัตกรรม</text>
<text x="1784.0" y="1385.7" font-family="Mitr, Prompt, Kanit, 'Noto Sans Thai', Loma, 'Liberation Sans', sans-serif" font-weight="500" font-size="44.4" fill="#000" textLength="58.1" lengthAdjust="spacingAndGlyphs">อว.</text>
<text x="44.0" y="1276.5" font-family="Mitr, Prompt, Kanit, 'Noto Sans Thai', Loma, 'Liberation Sans', sans-serif" font-weight="500" font-size="29.6" fill="#fff" textLength="84.0" lengthAdjust="spacingAndGlyphs">ก.พ.<tspan font-family="Nunito, 'Varela Round', Prompt, 'Liberation Sans', sans-serif" font-weight="800" font-size="29.2">64</tspan></text>
<text x="246.5" y="1276.5" font-family="Mitr, Prompt, Kanit, 'Noto Sans Thai', Loma, 'Liberation Sans', sans-serif" font-weight="500" font-size="29.6" fill="#fff" textLength="82.0" lengthAdjust="spacingAndGlyphs">มี.ค.<tspan font-family="Nunito, 'Varela Round', Prompt, 'Liberation Sans', sans-serif" font-weight="800" font-size="29.2">64</tspan></text>
<text x="554.0" y="1276.5" font-family="Mitr, Prompt, Kanit, 'Noto Sans Thai', Loma, 'Liberation Sans', sans-serif" font-weight="500" font-size="29.6" fill="#fff" textLength="90.5" lengthAdjust="spacingAndGlyphs">เม.ย.<tspan font-family="Nunito, 'Varela Round', Prompt, 'Liberation Sans', sans-serif" font-weight="800" font-size="29.2">64</tspan></text>
<text x="861.5" y="1276.5" font-family="Mitr, Prompt, Kanit, 'Noto Sans Thai', Loma, 'Liberation Sans', sans-serif" font-weight="500" font-size="29.6" fill="#fff" textLength="84.0" lengthAdjust="spacingAndGlyphs">พ.ค.<tspan font-family="Nunito, 'Varela Round', Prompt, 'Liberation Sans', sans-serif" font-weight="800" font-size="29.2">64</tspan></text>
<text x="1161.5" y="1276.5" font-family="Mitr, Prompt, Kanit, 'Noto Sans Thai', Loma, 'Liberation Sans', sans-serif" font-weight="500" font-size="29.6" fill="#fff" textLength="82.0" lengthAdjust="spacingAndGlyphs">มิ.ย.<tspan font-family="Nunito, 'Varela Round', Prompt, 'Liberation Sans', sans-serif" font-weight="800" font-size="29.2">64</tspan></text>
<text x="1459.5" y="1276.5" font-family="Mitr, Prompt, Kanit, 'Noto Sans Thai', Loma, 'Liberation Sans', sans-serif" font-weight="500" font-size="29.6" fill="#fff" textLength="81.0" lengthAdjust="spacingAndGlyphs">ก.ค.<tspan font-family="Nunito, 'Varela Round', Prompt, 'Liberation Sans', sans-serif" font-weight="800" font-size="29.2">64</tspan></text>
<text x="1660.0" y="1276.5" font-family="Mitr, Prompt, Kanit, 'Noto Sans Thai', Loma, 'Liberation Sans', sans-serif" font-weight="500" font-size="29.6" fill="#fff" textLength="80.5" lengthAdjust="spacingAndGlyphs">ส.ค.<tspan font-family="Nunito, 'Varela Round', Prompt, 'Liberation Sans', sans-serif" font-weight="800" font-size="29.2">64</tspan></text>
<text x="1336.0" y="148.0" font-family="'Liberation Sans', Arimo, Arial, sans-serif" font-weight="700" font-size="20" fill="#f04e23" textLength="114.1" lengthAdjust="spacingAndGlyphs">COVID-19</text>
<text x="1338.0" y="176.5" font-family="'Liberation Sans', Arimo, Arial, sans-serif" font-weight="700" font-size="20" fill="#f04e23" textLength="108.0" lengthAdjust="spacingAndGlyphs">VACCINE</text>
<text x="1647.0" y="187.9" font-family="Mitr, Prompt, Kanit, 'Noto Sans Thai', Loma, 'Liberation Sans', sans-serif" font-weight="300" font-size="14" fill="#3c3c46" textLength="153.5" lengthAdjust="spacingAndGlyphs">กระทรวงการอุดมศึกษา</text>
<text x="1614.5" y="206.6" font-family="Mitr, Prompt, Kanit, 'Noto Sans Thai', Loma, 'Liberation Sans', sans-serif" font-weight="300" font-size="15" fill="#3c3c46" textLength="216.0" lengthAdjust="spacingAndGlyphs">วิทยาศาสตร์ วิจัยและนวัตกรรม</text>
<text x="1614.5" y="217.0" font-family="'Liberation Sans', Arimo, Arial, sans-serif" font-weight="400" font-size="7.2" fill="#555" textLength="215.0" lengthAdjust="spacingAndGlyphs">Ministry of Higher Education, Science, Research and Innovation</text>
<text x="92.5" y="1205.8" font-family="Nunito, 'Varela Round', Prompt, 'Liberation Sans', sans-serif" font-weight="800" font-size="23.9" fill="#595b66" textLength="15.2" lengthAdjust="spacingAndGlyphs">0</text>
<text x="18.5" y="1101.1" font-family="Nunito, 'Varela Round', Prompt, 'Liberation Sans', sans-serif" font-weight="800" font-size="23.9" fill="#595b66" textLength="89.1" lengthAdjust="spacingAndGlyphs">100,000</text>
<text x="19.5" y="996.4" font-family="Nunito, 'Varela Round', Prompt, 'Liberation Sans', sans-serif" font-weight="800" font-size="23.9" fill="#595b66" textLength="88.1" lengthAdjust="spacingAndGlyphs">200,000</text>
<text x="19.5" y="891.6" font-family="Nunito, 'Varela Round', Prompt, 'Liberation Sans', sans-serif" font-weight="800" font-size="23.9" fill="#595b66" textLength="88.0" lengthAdjust="spacingAndGlyphs">300,000</text>
<text x="19.5" y="786.9" font-family="Nunito, 'Varela Round', Prompt, 'Liberation Sans', sans-serif" font-weight="800" font-size="23.9" fill="#595b66" textLength="88.0" lengthAdjust="spacingAndGlyphs">400,000</text>
<text x="19.5" y="682.2" font-family="Nunito, 'Varela Round', Prompt, 'Liberation Sans', sans-serif" font-weight="800" font-size="23.9" fill="#595b66" textLength="88.1" lengthAdjust="spacingAndGlyphs">500,000</text>
<text x="19.5" y="577.5" font-family="Nunito, 'Varela Round', Prompt, 'Liberation Sans', sans-serif" font-weight="800" font-size="23.9" fill="#595b66" textLength="88.1" lengthAdjust="spacingAndGlyphs">600,000</text>
<text x="19.5" y="472.8" font-family="Nunito, 'Varela Round', Prompt, 'Liberation Sans', sans-serif" font-weight="800" font-size="23.9" fill="#595b66" textLength="88.0" lengthAdjust="spacingAndGlyphs">700,000</text>
<text x="19.5" y="368.0" font-family="Nunito, 'Varela Round', Prompt, 'Liberation Sans', sans-serif" font-weight="800" font-size="23.9" fill="#595b66" textLength="88.0" lengthAdjust="spacingAndGlyphs">800,000</text>
<text x="1732.0" y="1206.2" font-family="Nunito, 'Varela Round', Prompt, 'Liberation Sans', sans-serif" font-weight="800" font-size="24.6" fill="#fff" textLength="16.3" lengthAdjust="spacingAndGlyphs">0</text>
<text x="1732.0" y="1001.8" font-family="Nunito, 'Varela Round', Prompt, 'Liberation Sans', sans-serif" font-weight="800" font-size="24.6" fill="#fff" textLength="119.0" lengthAdjust="spacingAndGlyphs">5,000,000</text>
<text x="1731.0" y="797.4" font-family="Nunito, 'Varela Round', Prompt, 'Liberation Sans', sans-serif" font-weight="800" font-size="24.6" fill="#fff" textLength="135.6" lengthAdjust="spacingAndGlyphs">10,000,000</text>
<text x="1731.0" y="593.0" font-family="Nunito, 'Varela Round', Prompt, 'Liberation Sans', sans-serif" font-weight="800" font-size="24.6" fill="#fff" textLength="135.6" lengthAdjust="spacingAndGlyphs">15,000,000</text>
<text x="1732.0" y="388.6" font-family="Nunito, 'Varela Round', Prompt, 'Liberation Sans', sans-serif" font-weight="800" font-size="24.6" fill="#fff" textLength="134.5" lengthAdjust="spacingAndGlyphs">20,000,000</text>
<text x="123.0" y="1233.8" font-family="Nunito, 'Varela Round', Prompt, 'Liberation Sans', sans-serif" font-weight="900" font-size="20.0" fill="#fff" textLength="24.2" lengthAdjust="spacingAndGlyphs">28</text>
<text x="157.8" y="1233.8" font-family="Nunito, 'Varela Round', Prompt, 'Liberation Sans', sans-serif" font-weight="900" font-size="20.0" fill="#fff" textLength="13.5" lengthAdjust="spacingAndGlyphs">3</text>
<text x="187.7" y="1233.8" font-family="Nunito, 'Varela Round', Prompt, 'Liberation Sans', sans-serif" font-weight="900" font-size="20.0" fill="#fff" textLength="12.2" lengthAdjust="spacingAndGlyphs">6</text>
<text x="217.6" y="1233.8" font-family="Nunito, 'Varela Round', Prompt, 'Liberation Sans', sans-serif" font-weight="900" font-size="20.0" fill="#fff" textLength="12.4" lengthAdjust="spacingAndGlyphs">9</text>
<text x="239.4" y="1233.8" font-family="Nunito, 'Varela Round', Prompt, 'Liberation Sans', sans-serif" font-weight="900" font-size="20.0" fill="#fff" textLength="25.2" lengthAdjust="spacingAndGlyphs">12</text>
<text x="269.2" y="1233.8" font-family="Nunito, 'Varela Round', Prompt, 'Liberation Sans', sans-serif" font-weight="900" font-size="20.0" fill="#fff" textLength="25.2" lengthAdjust="spacingAndGlyphs">15</text>
<text x="298.1" y="1233.8" font-family="Nunito, 'Varela Round', Prompt, 'Liberation Sans', sans-serif" font-weight="900" font-size="20.0" fill="#fff" textLength="25.2" lengthAdjust="spacingAndGlyphs">18</text>
<text x="328.9" y="1233.8" font-family="Nunito, 'Varela Round', Prompt, 'Liberation Sans', sans-serif" font-weight="900" font-size="20.0" fill="#fff" textLength="23.1" lengthAdjust="spacingAndGlyphs">21</text>
<text x="357.8" y="1233.8" font-family="Nunito, 'Varela Round', Prompt, 'Liberation Sans', sans-serif" font-weight="900" font-size="20.0" fill="#fff" textLength="24.1" lengthAdjust="spacingAndGlyphs">24</text>
<text x="387.6" y="1233.8" font-family="Nunito, 'Varela Round', Prompt, 'Liberation Sans', sans-serif" font-weight="900" font-size="20.0" fill="#fff" textLength="24.2" lengthAdjust="spacingAndGlyphs">27</text>
<text x="416.5" y="1233.8" font-family="Nunito, 'Varela Round', Prompt, 'Liberation Sans', sans-serif" font-weight="900" font-size="20.0" fill="#fff" textLength="24.1" lengthAdjust="spacingAndGlyphs">30</text>
<text x="452.4" y="1233.8" font-family="Nunito, 'Varela Round', Prompt, 'Liberation Sans', sans-serif" font-weight="900" font-size="20.0" fill="#fff" textLength="12.4" lengthAdjust="spacingAndGlyphs">2</text>
<text x="481.2" y="1233.8" font-family="Nunito, 'Varela Round', Prompt, 'Liberation Sans', sans-serif" font-weight="900" font-size="20.0" fill="#fff" textLength="12.1" lengthAdjust="spacingAndGlyphs">5</text>
<text x="511.1" y="1233.8" font-family="Nunito, 'Varela Round', Prompt, 'Liberation Sans', sans-serif" font-weight="900" font-size="20.0" fill="#fff" textLength="12.2" lengthAdjust="spacingAndGlyphs">8</text>
<text x="534.4" y="1233.8" font-family="Nunito, 'Varela Round', Prompt, 'Liberation Sans', sans-serif" font-weight="900" font-size="20.0" fill="#fff" textLength="23.1" lengthAdjust="spacingAndGlyphs">11</text>
<text x="562.8" y="1233.8" font-family="Nunito, 'Varela Round', Prompt, 'Liberation Sans', sans-serif" font-weight="900" font-size="20.0" fill="#fff" textLength="24.2" lengthAdjust="spacingAndGlyphs">14</text>
<text x="591.6" y="1233.8" font-family="Nunito, 'Varela Round', Prompt, 'Liberation Sans', sans-serif" font-weight="900" font-size="20.0" fill="#fff" textLength="25.2" lengthAdjust="spacingAndGlyphs">17</text>
<text x="622.5" y="1233.8" font-family="Nunito, 'Varela Round', Prompt, 'Liberation Sans', sans-serif" font-weight="900" font-size="20.0" fill="#fff" textLength="24.1" lengthAdjust="spacingAndGlyphs">20</text>
<text x="651.3" y="1233.8" font-family="Nunito, 'Varela Round', Prompt, 'Liberation Sans', sans-serif" font-weight="900" font-size="20.0" fill="#fff" textLength="25.2" lengthAdjust="spacingAndGlyphs">23</text>
<text x="681.1" y="1233.8" font-family="Nunito, 'Varela Round', Prompt, 'Liberation Sans', sans-serif" font-weight="900" font-size="20.0" fill="#fff" textLength="24.1" lengthAdjust="spacingAndGlyphs">26</text>
<text x="710.0" y="1233.8" font-family="Nunito, 'Varela Round', Prompt, 'Liberation Sans', sans-serif" font-weight="900" font-size="20.0" fill="#fff" textLength="25.2" lengthAdjust="spacingAndGlyphs">29</text>
<text x="745.9" y="1233.8" font-family="Nunito, 'Varela Round', Prompt, 'Liberation Sans', sans-serif" font-weight="900" font-size="20.0" fill="#fff" textLength="12.1" lengthAdjust="spacingAndGlyphs">2</text>
<text x="774.7" y="1233.8" font-family="Nunito, 'Varela Round', Prompt, 'Liberation Sans', sans-serif" font-weight="900" font-size="20.0" fill="#fff" textLength="12.3" lengthAdjust="spacingAndGlyphs">5</text>
<text x="804.5" y="1233.8" font-family="Nunito, 'Varela Round', Prompt, 'Liberation Sans', sans-serif" font-weight="900" font-size="20.0" fill="#fff" textLength="12.1" lengthAdjust="spacingAndGlyphs">8</text>
<text x="827.9" y="1233.8" font-family="Nunito, 'Varela Round', Prompt, 'Liberation Sans', sans-serif" font-weight="900" font-size="20.0" fill="#fff" textLength="23.3" lengthAdjust="spacingAndGlyphs">11</text>
<text x="856.2" y="1233.8" font-family="Nunito, 'Varela Round', Prompt, 'Liberation Sans', sans-serif" font-weight="900" font-size="20.0" fill="#fff" textLength="24.1" lengthAdjust="spacingAndGlyphs">14</text>
<text x="886.1" y="1233.8" font-family="Nunito, 'Varela Round', Prompt, 'Liberation Sans', sans-serif" font-weight="900" font-size="20.0" fill="#fff" textLength="24.2" lengthAdjust="spacingAndGlyphs">17</text>
<text x="916.0" y="1233.8" font-family="Nunito, 'Varela Round', Prompt, 'Liberation Sans', sans-serif" font-weight="900" font-size="20.0" fill="#fff" textLength="24.2" lengthAdjust="spacingAndGlyphs">20</text>
<text x="945.8" y="1233.8" font-family="Nunito, 'Varela Round', Prompt, 'Liberation Sans', sans-serif" font-weight="900" font-size="20.0" fill="#fff" textLength="24.1" lengthAdjust="spacingAndGlyphs">23</text>
<text x="974.6" y="1233.8" font-family="Nunito, 'Varela Round', Prompt, 'Liberation Sans', sans-serif" font-weight="900" font-size="20.0" fill="#fff" textLength="24.1" lengthAdjust="spacingAndGlyphs">26</text>
<text x="1004.5" y="1233.8" font-family="Nunito, 'Varela Round', Prompt, 'Liberation Sans', sans-serif" font-weight="900" font-size="20.0" fill="#fff" textLength="24.1" lengthAdjust="spacingAndGlyphs">29</text>
<text x="1038.3" y="1233.8" font-family="Nunito, 'Varela Round', Prompt, 'Liberation Sans', sans-serif" font-weight="900" font-size="20.0" fill="#fff" textLength="13.5" lengthAdjust="spacingAndGlyphs">1</text>
<text x="1069.2" y="1233.8" font-family="Nunito, 'Varela Round', Prompt, 'Liberation Sans', sans-serif" font-weight="900" font-size="20.0" fill="#fff" textLength="11.0" lengthAdjust="spacingAndGlyphs">4</text>
<text x="1098.0" y="1233.8" font-family="Nunito, 'Varela Round', Prompt, 'Liberation Sans', sans-serif" font-weight="900" font-size="20.0" fill="#fff" textLength="12.3" lengthAdjust="spacingAndGlyphs">7</text>
<text x="1120.9" y="1233.8" font-family="Nunito, 'Varela Round', Prompt, 'Liberation Sans', sans-serif" font-weight="900" font-size="20.0" fill="#fff" textLength="25.2" lengthAdjust="spacingAndGlyphs">10</text>
<text x="1149.8" y="1233.8" font-family="Nunito, 'Varela Round', Prompt, 'Liberation Sans', sans-serif" font-weight="900" font-size="20.0" fill="#fff" textLength="25.2" lengthAdjust="spacingAndGlyphs">13</text>
<text x="1179.6" y="1233.8" font-family="Nunito, 'Varela Round', Prompt, 'Liberation Sans', sans-serif" font-weight="900" font-size="20.0" fill="#fff" textLength="25.3" lengthAdjust="spacingAndGlyphs">16</text>
<text x="1208.5" y="1233.8" font-family="Nunito, 'Varela Round', Prompt, 'Liberation Sans', sans-serif" font-weight="900" font-size="20.0" fill="#fff" textLength="25.2" lengthAdjust="spacingAndGlyphs">19</text>
<text x="1239.3" y="1233.8" font-family="Nunito, 'Varela Round', Prompt, 'Liberation Sans', sans-serif" font-weight="900" font-size="20.0" fill="#fff" textLength="24.1" lengthAdjust="spacingAndGlyphs">22</text>
<text x="1268.2" y="1233.8" font-family="Nunito, 'Varela Round', Prompt, 'Liberation Sans', sans-serif" font-weight="900" font-size="20.0" fill="#fff" textLength="24.2" lengthAdjust="spacingAndGlyphs">25</text>
<text x="1298.0" y="1233.8" font-family="Nunito, 'Varela Round', Prompt, 'Liberation Sans', sans-serif" font-weight="900" font-size="20.0" fill="#fff" textLength="24.1" lengthAdjust="spacingAndGlyphs">28</text>
<text x="1331.8" y="1233.8" font-family="Nunito, 'Varela Round', Prompt, 'Liberation Sans', sans-serif" font-weight="900" font-size="20.0" fill="#fff" textLength="13.6" lengthAdjust="spacingAndGlyphs">1</text>
<text x="1362.7" y="1233.8" font-family="Nunito, 'Varela Round', Prompt, 'Liberation Sans', sans-serif" font-weight="900" font-size="20.0" fill="#fff" textLength="11.0" lengthAdjust="spacingAndGlyphs">4</text>
<text x="1392.5" y="1233.8" font-family="Nunito, 'Varela Round', Prompt, 'Liberation Sans', sans-serif" font-weight="900" font-size="20.0" fill="#fff" textLength="11.1" lengthAdjust="spacingAndGlyphs">7</text>
<text x="1414.4" y="1233.8" font-family="Nunito, 'Varela Round', Prompt, 'Liberation Sans', sans-serif" font-weight="900" font-size="20.0" fill="#fff" textLength="25.2" lengthAdjust="spacingAndGlyphs">10</text>
<text x="1444.2" y="1233.8" font-family="Nunito, 'Varela Round', Prompt, 'Liberation Sans', sans-serif" font-weight="900" font-size="20.0" fill="#fff" textLength="25.3" lengthAdjust="spacingAndGlyphs">13</text>
<text x="1473.1" y="1233.8" font-family="Nunito, 'Varela Round', Prompt, 'Liberation Sans', sans-serif" font-weight="900" font-size="20.0" fill="#fff" textLength="25.2" lengthAdjust="spacingAndGlyphs">16</text>
<text x="1503.0" y="1233.8" font-family="Nunito, 'Varela Round', Prompt, 'Liberation Sans', sans-serif" font-weight="900" font-size="20.0" fill="#fff" textLength="24.3" lengthAdjust="spacingAndGlyphs">19</text>
<text x="1532.8" y="1233.8" font-family="Nunito, 'Varela Round', Prompt, 'Liberation Sans', sans-serif" font-weight="900" font-size="20.0" fill="#fff" textLength="24.1" lengthAdjust="spacingAndGlyphs">22</text>
<text x="1561.7" y="1233.8" font-family="Nunito, 'Varela Round', Prompt, 'Liberation Sans', sans-serif" font-weight="900" font-size="20.0" fill="#fff" textLength="25.2" lengthAdjust="spacingAndGlyphs">25</text>
<text x="1591.5" y="1233.8" font-family="Nunito, 'Varela Round', Prompt, 'Liberation Sans', sans-serif" font-weight="900" font-size="20.0" fill="#fff" textLength="24.1" lengthAdjust="spacingAndGlyphs">28</text>
<text x="1620.3" y="1233.8" font-family="Nunito, 'Varela Round', Prompt, 'Liberation Sans', sans-serif" font-weight="900" font-size="20.0" fill="#fff" textLength="24.1" lengthAdjust="spacingAndGlyphs">31</text>
<text x="1656.2" y="1233.8" font-family="Nunito, 'Varela Round', Prompt, 'Liberation Sans', sans-serif" font-weight="900" font-size="20.0" fill="#fff" textLength="12.3" lengthAdjust="spacingAndGlyphs">3</text>
<text x="1686.0" y="1233.8" font-family="Nunito, 'Varela Round', Prompt, 'Liberation Sans', sans-serif" font-weight="900" font-size="20.0" fill="#fff" textLength="12.1" lengthAdjust="spacingAndGlyphs">6</text>
</svg>
</body>
</html>
